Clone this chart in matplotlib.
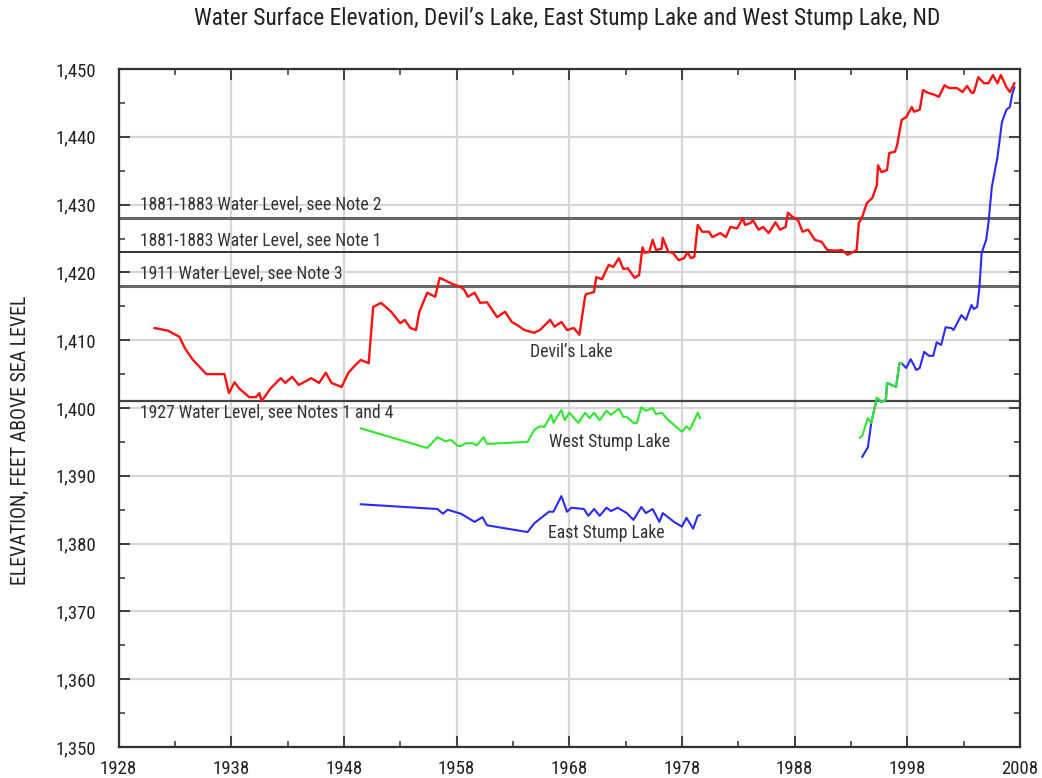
import matplotlib
matplotlib.use("Agg")
import matplotlib.pyplot as plt
from matplotlib.ticker import FixedLocator, MultipleLocator, FuncFormatter

plt.rcParams["font.family"] = ["Roboto Condensed", "DejaVu Sans"]

# ---------------- data ----------------
devils_years = [1931.2, 1932.4, 1933.4, 1933.9, 1934.6, 1935.8, 1937.4, 1937.8, 1938.3, 1938.7,
                1939.6, 1940.2, 1940.5, 1940.7, 1941.5, 1942.4, 1942.8, 1943.4, 1944.0, 1945.1,
                1945.8, 1946.4, 1946.9, 1947.8, 1948.4, 1949.0, 1949.5, 1950.2, 1950.6, 1951.3,
                1952.2, 1953.0, 1953.4, 1953.9, 1954.4, 1954.7, 1955.4, 1956.1, 1956.5, 1957.5,
                1958.4, 1958.7, 1959.0, 1959.6, 1960.1, 1960.7, 1961.6, 1962.3, 1962.9, 1963.6,
                1964.0, 1964.9, 1965.4, 1966.3, 1966.7, 1967.3, 1967.8, 1968.4, 1968.9, 1969.4,
                1969.5, 1970.2, 1970.4, 1970.9, 1971.5, 1971.9, 1972.4, 1972.8, 1973.2, 1973.8,
                1974.2, 1974.5, 1974.7, 1975.1, 1975.4, 1975.7, 1976.2, 1976.3, 1976.8, 1977.2,
                1977.7, 1978.2, 1978.5, 1978.8, 1979.1, 1979.4, 1979.8, 1980.4, 1980.7, 1981.4,
                1981.9, 1982.3, 1982.9, 1983.4, 1983.6, 1984.1, 1984.3, 1984.8, 1985.2, 1985.7,
                1986.3, 1986.7, 1987.2, 1987.4, 1987.8, 1988.3, 1988.7, 1989.2, 1989.8, 1990.4,
                1990.9, 1991.6, 1992.2, 1992.7, 1993.2, 1993.5, 1993.7, 1994.0, 1994.4, 1994.9,
                1995.3, 1995.4, 1995.7, 1996.2, 1996.4, 1996.9, 1997.1, 1997.5, 1997.9, 1998.4,
                1998.6, 1999.1, 1999.4, 1999.8, 2000.4, 2000.8, 2001.3, 2001.7, 2002.4, 2002.9,
                2003.3, 2003.7, 2003.9, 2004.3, 2004.8, 2005.2, 2005.6, 2006.0, 2006.3, 2006.8,
                2007.1, 2007.5]
devils_elev = [1411.8, 1411.4, 1410.5, 1408.8, 1407.1, 1405.0, 1405.0, 1402.2, 1403.8, 1402.9,
               1401.6, 1401.6, 1402.2, 1401.0, 1402.9, 1404.4, 1403.7, 1404.6, 1403.4, 1404.4,
               1403.7, 1405.2, 1403.7, 1403.1, 1405.2, 1406.3, 1407.1, 1406.6, 1414.9, 1415.5,
               1414.2, 1412.5, 1413.0, 1411.8, 1411.5, 1414.2, 1417.0, 1416.4, 1419.2, 1418.4,
               1417.8, 1417.4, 1416.4, 1417.0, 1415.5, 1415.6, 1413.4, 1414.2, 1412.7, 1412.0,
               1411.5, 1411.1, 1411.5, 1413.0, 1412.0, 1412.7, 1411.5, 1411.8, 1410.8, 1416.4,
               1416.8, 1417.1, 1419.3, 1419.0, 1421.1, 1420.8, 1422.1, 1420.5, 1420.6, 1419.2,
               1419.6, 1423.7, 1422.9, 1423.0, 1424.8, 1423.3, 1423.5, 1425.1, 1423.0, 1422.9,
               1421.8, 1422.1, 1423.0, 1422.1, 1422.3, 1427.0, 1426.0, 1426.0, 1425.2, 1425.8,
               1425.2, 1426.7, 1426.5, 1428.0, 1427.0, 1427.3, 1427.7, 1426.3, 1426.7, 1425.8,
               1427.4, 1426.3, 1426.7, 1428.8, 1428.2, 1427.7, 1426.0, 1426.3, 1424.8, 1424.5,
               1423.3, 1423.2, 1423.3, 1422.6, 1423.0, 1423.3, 1427.3, 1428.2, 1430.2, 1431.0,
               1432.9, 1435.8, 1434.8, 1435.1, 1437.6, 1437.8, 1438.8, 1442.5, 1442.9, 1444.4,
               1443.7, 1444.0, 1446.9, 1446.5, 1446.2, 1445.9, 1447.6, 1447.2, 1447.2, 1446.6,
               1447.5, 1446.5, 1446.5, 1448.8, 1447.9, 1447.9, 1449.1, 1447.9, 1449.1, 1447.3,
               1446.6, 1447.9]

west_early_years = [1949.5, 1955.4, 1956.3, 1957.0, 1957.5, 1958.1, 1958.4, 1958.8, 1959.4, 1959.8,
                    1960.4, 1960.7, 1964.3, 1964.9, 1965.4, 1965.8, 1966.4, 1966.6, 1967.3, 1967.6,
                    1968.0, 1968.8, 1969.4, 1969.8, 1970.2, 1970.7, 1971.3, 1971.7, 1972.4, 1972.8,
                    1973.1, 1973.7, 1974.0, 1974.4, 1974.8, 1975.4, 1975.7, 1976.2, 1976.8, 1977.3,
                    1978.0, 1978.4, 1978.7, 1979.4, 1979.6]
west_early_elev = [1397.0, 1394.1, 1395.7, 1395.1, 1395.3, 1394.4, 1394.4, 1394.8, 1394.8, 1394.5,
                   1395.7, 1394.7, 1395.0, 1396.8, 1397.3, 1397.2, 1399.0, 1397.8, 1399.7, 1398.2,
                   1399.3, 1397.8, 1399.3, 1398.5, 1399.3, 1398.2, 1399.6, 1399.0, 1399.9, 1398.7,
                   1398.7, 1397.8, 1397.8, 1400.1, 1399.6, 1400.0, 1399.1, 1399.3, 1398.2, 1397.5,
                   1396.5, 1397.3, 1396.8, 1399.3, 1398.5]
west_late_years = [1993.8, 1994.0, 1994.5, 1994.8, 1995.3, 1995.7, 1996.1, 1996.2, 1996.6, 1997.0,
                   1997.3, 1997.5]
west_late_elev = [1395.6, 1395.9, 1398.5, 1397.8, 1401.5, 1400.9, 1401.2, 1403.7, 1403.4, 1403.1,
                  1406.6, 1406.6]

east_early_years = [1949.5, 1956.3, 1956.8, 1957.2, 1958.4, 1959.6, 1960.3, 1960.7, 1964.3, 1964.9,
                    1966.2, 1966.6, 1967.3, 1967.8, 1968.2, 1969.3, 1969.7, 1970.2, 1970.7, 1971.3,
                    1971.7, 1972.3, 1973.1, 1973.7, 1974.4, 1974.8, 1975.4, 1976.0, 1976.3, 1977.3,
                    1978.0, 1978.4, 1979.0, 1979.4, 1979.6]
east_early_elev = [1385.8, 1385.1, 1384.4, 1385.0, 1384.4, 1383.2, 1383.9, 1382.7, 1381.7, 1383.0,
                   1384.7, 1384.7, 1387.0, 1384.7, 1385.3, 1385.1, 1384.1, 1385.1, 1384.1, 1385.3,
                   1384.8, 1385.3, 1384.5, 1383.5, 1385.4, 1384.5, 1385.1, 1383.2, 1384.5, 1383.2,
                   1382.5, 1383.8, 1382.2, 1384.1, 1384.2]
east_late_years = [1994.0, 1994.5, 1994.8, 1995.3, 1995.7, 1996.1, 1996.2, 1996.6, 1997.0, 1997.3,
                   1997.5, 1997.9, 1998.3, 1998.8, 1999.1, 1999.5, 1999.9, 2000.3, 2000.6, 2001.0,
                   2001.4, 2001.9, 2002.1, 2002.8, 2003.2, 2003.7, 2003.9, 2004.2, 2004.4, 2004.6,
                   2005.0, 2005.2, 2005.5, 2006.0, 2006.4, 2006.8, 2007.1, 2007.3, 2007.5]
east_late_elev = [1392.8, 1394.2, 1397.8, 1401.5, 1400.9, 1401.2, 1403.7, 1403.4, 1403.1, 1406.6,
                  1406.6, 1405.9, 1407.2, 1405.6, 1405.9, 1408.3, 1407.7, 1407.7, 1409.7, 1409.3,
                  1411.9, 1411.8, 1411.5, 1413.7, 1413.0, 1415.2, 1414.6, 1414.9, 1417.8, 1422.9,
                  1424.8, 1427.3, 1432.6, 1437.0, 1442.2, 1444.0, 1444.4, 1446.2, 1447.3]

ref_levels = [1428, 1423, 1418, 1401]
ref_labels = ["1881-1883 Water Level, see Note 2",
              "1881-1883 Water Level, see Note 1",
              "1911 Water Level, see Note 3",
              "1927 Water Level, see Notes 1 and 4"]

x_ticks = [1928, 1938, 1948, 1958, 1968, 1978, 1988, 1998, 2008]
x_minor = [1933, 1943, 1953, 1963, 1973, 1983, 1993, 2003]

title = "Water Surface Elevation, Devil\u2019s Lake, East Stump Lake and West Stump Lake, ND"
ylabel = "ELEVATION, FEET ABOVE SEA LEVEL"

# ---------------- figure ----------------
fig = plt.figure(figsize=(10.42, 7.78), dpi=100)
ax = fig.add_axes([118.5 / 1042, 1 - 747 / 778, (1020 - 118.5) / 1042, (747 - 69) / 778])
ax.set_xlim(1928, 2008)
ax.set_ylim(1350, 1450)

ax.xaxis.set_major_locator(FixedLocator(x_ticks))
ax.xaxis.set_minor_locator(FixedLocator(x_minor))
ax.yaxis.set_major_locator(MultipleLocator(10))
ax.yaxis.set_minor_locator(MultipleLocator(5))
ax.yaxis.set_major_formatter(FuncFormatter(lambda v, p: f"{int(round(v)):,}"))
ax.xaxis.set_major_formatter(FuncFormatter(lambda v, p: f"{int(round(v))}"))

ax.grid(True, which="major", color="#d6d6d6", linewidth=1.6, zorder=0)
ax.tick_params(which="both", direction="in", top=True, right=True, color="#333333")
ax.tick_params(which="major", length=8, width=1.3, labelsize=13.5, labelcolor="#222222")
ax.tick_params(axis="y", which="major", pad=16)
ax.tick_params(axis="x", which="major", pad=9)
ax.tick_params(which="minor", length=4, width=1.1)
for s in ax.spines.values():
    s.set_color("#333333")
    s.set_linewidth(1.6)

ref_styles = [("#666666", 2.2), ("#333333", 1.4), ("#666666", 2.2), ("#444444", 1.6)]
for lvl, (c, lw) in zip(ref_levels, ref_styles):
    ax.axhline(lvl, color=c, linewidth=lw, zorder=2)

label_offsets = [2.0, 1.7, 1.9, -1.6]
for lvl, lab, off in zip(ref_levels, ref_labels, label_offsets):
    ax.text(1929.9, lvl + off, lab, fontsize=12.7, color="#333333",
            va="center", ha="left", zorder=3)

ax.plot(east_early_years, east_early_elev, color="#2a2aff", lw=1.5, zorder=4)
ax.plot(east_late_years, east_late_elev, color="#2a2aff", lw=1.5, zorder=4)
ax.plot(west_early_years, west_early_elev, color="#2ee82e", lw=1.5, zorder=5)
ax.plot(west_late_years, west_late_elev, color="#2ee82e", lw=1.5, zorder=5)
ax.plot(devils_years, devils_elev, color="#ff1010", lw=1.7, zorder=6)

ax.text(1968.2, 1408.3, "Devil\u2019s Lake", fontsize=12.7, color="#333333", ha="center", va="center")
ax.text(1971.6, 1395.0, "West Stump Lake", fontsize=12.7, color="#333333", ha="center", va="center")
ax.text(1971.3, 1381.6, "East Stump Lake", fontsize=12.7, color="#333333", ha="center", va="center")

fig.text(567 / 1042, 1 - 18 / 778, title, fontsize=16.8, color="#222222", ha="center", va="center")
fig.text(20 / 1042, 1 - 440 / 778, ylabel, fontsize=14.3, color="#222222",
         rotation=90, ha="center", va="center")

fig.savefig("out.png", dpi=100)
